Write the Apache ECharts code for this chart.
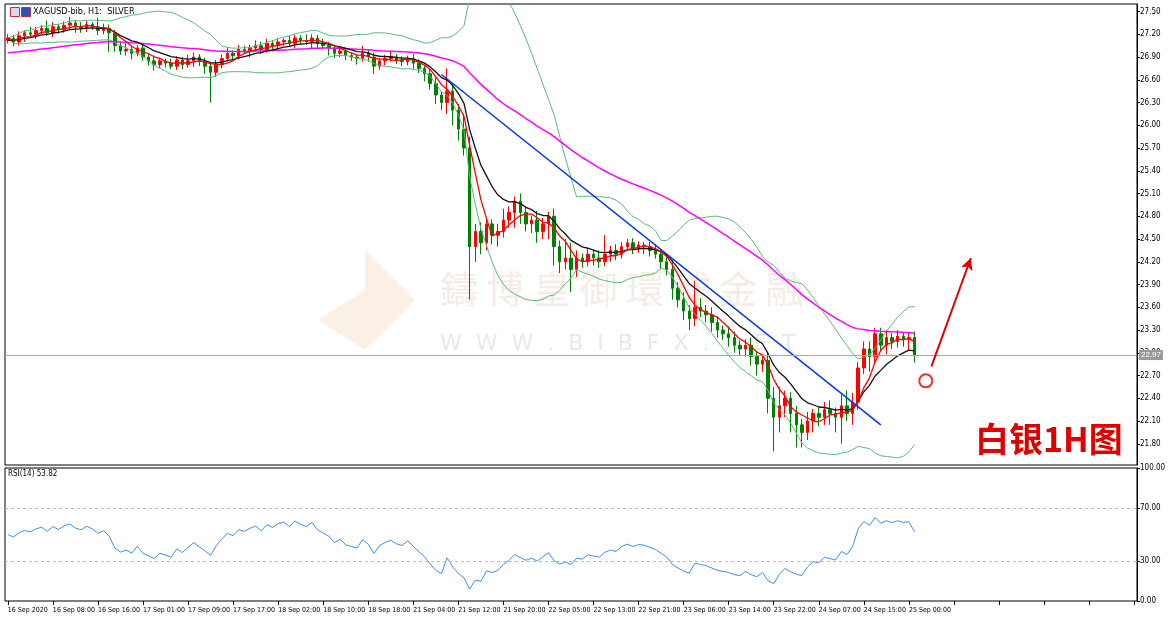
<!DOCTYPE html>
<html><head><meta charset="utf-8">
<script src="https://cdn.jsdelivr.net/npm/echarts@6/dist/echarts.min.js"></script>
<style>html,body{margin:0;padding:0;background:#fff}#c{width:1170px;height:622px}</style>
</head><body><div id="c"></div>
<script>
// hourly closes, XAGUSD H1, 16 Sep 00:00 .. 25 Sep 01:00
const closes = [
  27.15,27.10,27.18,27.22,27.20,27.25,27.28,27.22,27.30,27.26,27.32,27.35,27.30,27.28,27.33,27.30,27.25,
  27.28,27.22,27.05,26.98,27.00,26.95,27.02,
  26.90,26.85,26.80,26.85,26.82,26.78,26.86,26.80,26.85,26.90,26.84,26.78,26.70,
  26.80,26.88,26.95,26.92,27.00,26.98,27.02,27.05,27.00,27.08,27.05,27.10,27.12,27.08,27.15,27.12,27.10,27.15,
  27.08,27.05,27.02,26.95,26.98,26.92,26.90,26.88,26.95,26.90,26.78,26.85,26.88,26.90,26.86,26.84,26.88,26.82,
  26.75,26.68,26.55,26.40,26.30,26.45,26.20,25.95,
  25.70,24.40,24.60,24.45,24.70,24.55,24.60,24.75,24.85,25.00,
  24.85,24.70,24.75,24.60,24.70,24.80,24.40,24.20,24.25,
  24.10,24.25,24.20,24.30,24.25,24.20,24.30,24.35,24.30,24.40,24.45,24.38,24.42,24.40,24.35,24.30,
  24.20,24.10,23.85,23.70,23.55,23.45,23.60,23.55,23.50,23.40,23.30,23.25,23.20,
  23.10,23.05,23.10,22.95,22.85,22.90,22.40,22.15,
  22.30,22.40,22.20,22.05,21.95,22.10,22.20,22.15,22.25,22.20,22.15,22.30,22.20,22.35,
  22.80,23.05,22.95,23.25,23.10,23.20,23.15,23.22,23.18,23.20,22.97
];
// wick sizes in cents
const upWick = [
  5,4,6,3,8,5,4,10,6,4, 5,8,4,6,5,3,12,6,5,4, 6,8,5,4,6,5,7,4,3,6, 5,4,8,6,4,5,4,6,5,8,
  4,6,5,4,7,5,6,4,5,3, 6,5,4,8,5,4,6,5,4,6, 5,4,3,10,5,6,4,5,8,4, 5,4,6,5,4,6,8,5,30,10,
  8,20,15,10,12,8,6,10,15,8, 6,10,8,6,12,8,6,10,8,25, 20,10,6,8,5,10,25,6,8,6, 5,6,5,4,6,8,6,10,12,8,
  10,8,35,12,8,10,8,6,10,8, 6,8,10,6,8,10,15,25,10,8, 10,8,12,6,8,10,12,8,15,20, 12,8,10,10,8,8,10,6,8,5,
  6,8
];
const downWick = [
  4,6,5,8,4,6,5,4,6,5, 4,5,8,6,5,4,6,5,25,8, 5,6,8,4,5,6,8,5,6,4, 5,6,4,8,6,10,40,6,5,4,
  6,5,4,8,5,6,4,5,6,5, 4,6,5,4,8,6,5,10,6,5, 6,5,8,4,6,10,5,6,4,5, 6,5,8,6,10,8,12,10,15,20,
  15,10,70,20,15,10,12,15,8,10, 20,15,10,12,15,10,20,25,15,10, 30,10,8,6,10,8,6,10,8,6, 5,8,6,10,8,6,10,8,15,10,
  12,15,10,8,10,12,10,8,12,10, 8,10,12,15,10,20,45,20,15,25, 30,20,10,15,12,10,15,20,35,10, 15,10,8,20,10,8,12,10,8,10,
  15,10
];
const firstOpen = 27.12;
const lastPrice = 22.97;
const priceTicks = [21.8,22.1,22.4,22.7,23.0,23.3,23.6,23.9,24.2,24.5,24.8,25.1,25.4,25.7,26.0,26.3,26.6,26.9,27.2,27.5];
const rsiTicks = [0,30,70,100];
const trendLine = [[77,26.67],[155,22.05]];
const arrowLine = [[164,22.82],[171,24.25]];
const circlePt = [163,22.63];
// trading days / hours of the H1 bars
const days = [['16 Sep',0,23],['17 Sep',1,23],['18 Sep',1,22],['21 Sep',1,23],['22 Sep',1,23],['23 Sep',1,23],['24 Sep',1,22],['25 Sep',0,1]];

const cats = [];
days.forEach(d => { for (let h = d[1]; h <= d[2]; h++) cats.push(d[0] + ' ' + String(h).padStart(2,'0') + ':00'); });
cats[0] = '16 Sep 2020';
while (cats.length < 201) cats.push('');

const ohlc = closes.map((c, i) => {
  const o = i === 0 ? firstOpen : closes[i-1];
  return [o, c, Math.min(o,c) - downWick[i]/100, Math.max(o,c) + upWick[i]/100];
});

function sma(n) {
  return closes.map((_, i) => {
    const s = closes.slice(Math.max(0, i-n+1), i+1);
    return s.reduce((a,b)=>a+b,0)/s.length;
  });
}
function ema(n, seed) {
  const k = 2/(n+1); let e = seed;
  return closes.map(c => (e = e + k*(c-e)));
}
const fast = sma(5);
const black = ema(10, 27.12);
const mid = sma(20);
const sd = closes.map((_, i) => {
  const s = closes.slice(Math.max(0, i-19), i+1);
  const m = mid[i];
  return Math.sqrt(s.reduce((a,b)=>a+(b-m)*(b-m),0)/s.length);
});
const upper = mid.map((m,i)=>m+2*sd[i]);
const lower = mid.map((m,i)=>m-2*sd[i]);
const slow = ema(55, 26.95);
const rsi = (() => {
  let ag = 0.05, al = 0.05; const out = [];
  closes.forEach((c, i) => {
    const d = i === 0 ? 0 : c - closes[i-1];
    ag = (ag*13 + Math.max(d,0))/14; al = (al*13 + Math.max(-d,0))/14;
    out.push(100 - 100/(1 + ag/al));
  });
  return out;
})();

const font = 'DejaVu Sans Condensed, Liberation Sans Narrow, sans-serif';
const chart = echarts.init(document.getElementById('c'));
const lineS = (data, color, w) => ({type:'line', data, symbol:'none', lineStyle:{color, width:w}, silent:true, z:3});

chart.setOption({
  animation:false,
  backgroundColor:'#fff',
  grid:[
    {left:5, right:33, top:4, height:461, show:true, borderColor:'#000', borderWidth:1},
    {left:5, right:33, top:468, height:133, show:true, borderColor:'#000', borderWidth:1}
  ],
  xAxis:[
    {type:'category', data:cats, gridIndex:0, boundaryGap:true, axisLine:{show:false}, axisTick:{show:false}, axisLabel:{show:false}},
    {type:'category', data:cats, gridIndex:1, boundaryGap:true, axisLine:{show:false},
     axisTick:{show:true, interval:7, length:4, alignWithLabel:true, lineStyle:{color:'#000'}},
     axisLabel:{interval:7, showMinLabel:true, hideOverlap:false, fontSize:7, fontFamily:font, color:'#000', align:'left', margin:6,
       formatter:v=>v}}
  ],
  yAxis:[
    {type:'value', gridIndex:0, position:'right', min:21.52, max:27.6, splitLine:{show:false},
     axisLine:{show:true, lineStyle:{color:'#000'}}, axisTick:{show:true, customValues:priceTicks, length:3},
     axisLabel:{customValues:priceTicks, fontSize:8, fontFamily:font, color:'#000', margin:3, formatter:v=>v.toFixed(2)}},
    {type:'value', gridIndex:1, position:'right', min:0, max:100, splitLine:{show:false},
     axisLine:{show:true, lineStyle:{color:'#000'}}, axisTick:{show:true, customValues:rsiTicks, length:3},
     axisLabel:{customValues:rsiTicks, fontSize:8, fontFamily:font, color:'#000', margin:3, formatter:v=>v.toFixed(2)}}
  ],
  graphic:[
    {type:'rect', left:10, top:7, shape:{width:9, height:9}, style:{fill:'#d8d8f0', stroke:'#c03030'}},
    {type:'rect', left:21, top:7, shape:{width:9, height:9}, style:{fill:'#3050c0', stroke:'#c03030'}},
    {type:'text', left:33, top:7, style:{text:'XAGUSD-bib, H1:  SILVER', fontSize:9, fontFamily:font, fill:'#000'}},
    {type:'text', left:8, top:470, style:{text:'RSI(14) 53.82', fontSize:8, fontFamily:font, fill:'#000'}},
    {type:'text', left:440, top:270, z:0, style:{text:'鑄 博 皇 御 環 球 金 融', fontSize:38, fontFamily:'Noto Sans CJK TC', fill:'rgba(215,185,150,0.25)'}},
    {type:'text', left:440, top:333, z:0, style:{text:'W  W  W  .  B  I  B  F  X  .  N  E  T', fontSize:22, fontFamily:'DejaVu Sans', fill:'rgba(190,190,190,0.35)'}},
    {type:'polygon', z:0, shape:{points:[[365,250],[415,300],[365,350],[318,320],[365,290]]}, style:{fill:'rgba(230,170,110,0.18)'}},
    {type:'text', left:975, top:422, style:{text:'白银1H图', fontSize:34, fontWeight:'bold', fontFamily:'Noto Sans CJK SC', fill:'#e00000'}}
  ],
  series:[
    {type:'candlestick', xAxisIndex:0, yAxisIndex:0, data:ohlc, barWidth:3, z:2,
     itemStyle:{color:'#ff0000', color0:'#008000', borderColor:'#ff0000', borderColor0:'#008000', borderWidth:1},
     markLine:{silent:true, symbol:'none', lineStyle:{color:'#a8a8a8', type:'solid', width:1},
       label:{position:'end', formatter:lastPrice.toFixed(2), fontSize:8, color:'#fff', backgroundColor:'#999', padding:[1,2], distance:2},
       data:[{yAxis:lastPrice}]}},
    lineS(upper, '#5cb87a', 1), lineS(lower, '#5cb87a', 1),
    lineS(slow, '#ff00ff', 1.5), lineS(black, '#111', 1.3), lineS(fast, '#ff0000', 1.3),
    {type:'line', data:trendLine, symbol:'none', lineStyle:{color:'#0033ff', width:1.5}, z:4, silent:true},
    {type:'scatter', data:[circlePt], symbol:'circle', symbolSize:13, itemStyle:{color:'#fff', borderColor:'#e00000', borderWidth:2}, z:5, silent:true,
     markLine:{silent:true, symbol:['none','arrow'], symbolSize:[9,12], label:{show:false},
       lineStyle:{color:'#e00000', width:2, type:'solid'},
       data:[[{coord:arrowLine[0]},{coord:arrowLine[1]}]]}},
    {type:'line', xAxisIndex:1, yAxisIndex:1, data:rsi, symbol:'none', lineStyle:{color:'#3d8fe8', width:1}, silent:true,
     markLine:{silent:true, symbol:'none', label:{show:false}, lineStyle:{color:'#bbb', type:[3,3], width:1}, data:[{yAxis:70},{yAxis:30}]}}
  ]
});
</script></body></html>
